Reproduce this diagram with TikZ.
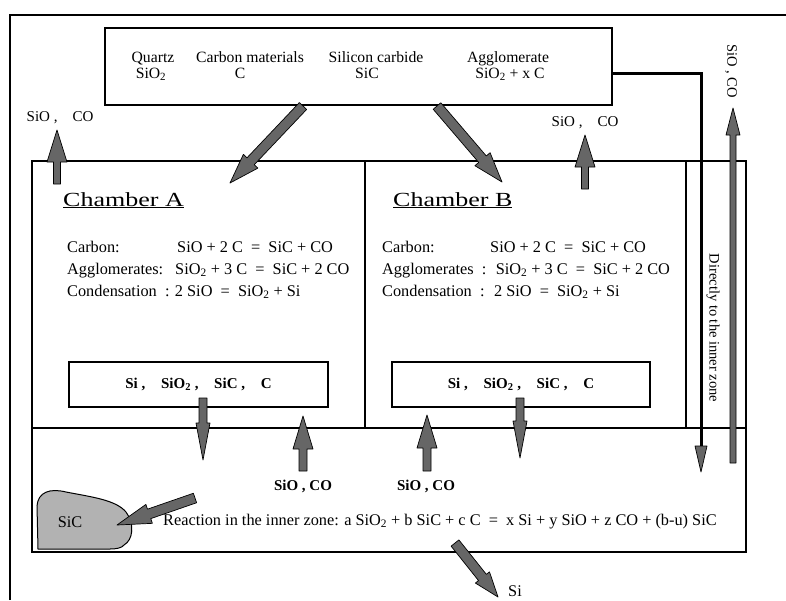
\documentclass[tikz,border=0pt]{standalone}
\usepackage{fontspec}
\setmainfont{Liberation Serif}
\usetikzlibrary{calc}
\tikzset{
  box/.style={draw, line width=2.6pt},
  ibox/.style={draw, line width=2pt, inner sep=0pt},
  frame/.style={draw, line width=1.2pt},
  txt/.style={font=\fontsize{16.3}{18}\selectfont, inner sep=0pt},
  toptxt/.style={font=\fontsize{15.7}{17}\selectfont, inner sep=0pt},
  lbl/.style={font=\fontsize{15}{17}\selectfont, inner sep=0pt},
  rlbl/.style={font=\fontsize{14.5}{16}\selectfont, inner sep=0pt},
  blbl/.style={font=\bfseries\fontsize{15}{17}\selectfont, inner sep=0pt},
  ttl/.style={font=\fontsize{20}{22}\selectfont, inner sep=0pt},
  arrowfill/.style={fill=black!60, draw=black, line width=0.7pt, line join=round},
  blob/.style={fill=black!30, draw=black, line width=1pt},
}
\newcommand\subtwo{\textsubscript{2}}
\newcommand\gap{\hspace{1.05em}}
% \fatarrow[opts]{tail}{tip}{shaft half width}{head half width}{head length}
\newcommand\fatarrow[6][]{%
  \coordinate (fahead) at ($(#3)!#6!(#2)$);
  \filldraw[arrowfill,#1] ($(#2)!#4!90:(#3)$) -- ($(fahead)!#4!90:(#3)$)
    -- ($(fahead)!#5!90:(#3)$) -- (#3) -- ($(fahead)!#5!-90:(#3)$)
    -- ($(fahead)!#4!-90:(#3)$) -- ($(#2)!#4!-90:(#3)$) -- cycle;
}
\begin{document}
\begin{tikzpicture}[x=1pt,y=-1pt]
\useasboundingbox (0,0) rectangle (786,600);
% outer frame
\coordinate (frBL) at (10,600);
\coordinate (frTL) at (10,15);
\coordinate (frTR) at (786,15);
\draw[frame] (frBL) -- (frTL) -- (frTR);

% feed box
\node[box, minimum width=507pt, minimum height=77pt, inner sep=0pt] (feed) at (358.5,66.5) {};
\node[toptxt, anchor=base] (q1) at (153,62) {Quartz};
\node[toptxt, anchor=base] (q2) at (151,78) {SiO\subtwo};
\node[toptxt, anchor=base] (c1) at (250,62) {Carbon materials};
\node[toptxt, anchor=base] (c2) at (240,78) {C};
\node[toptxt, anchor=base] (s1) at (376,62) {Silicon carbide};
\node[toptxt, anchor=base] (s2) at (367,78) {SiC};
\node[toptxt, anchor=base] (g1) at (508,62) {Agglomerate};
\node[toptxt, anchor=base] (g2) at (510,78) {SiO\subtwo{} + x C};

% furnace boxes
\coordinate (mTL) at (32,161);
\coordinate (mBR) at (746,552);
\draw[box] (mTL) rectangle (mBR);
\coordinate (zL) at (32,428);
\coordinate (zR) at (746,428);
\draw[box] (zL) -- (zR);
\coordinate (dAt) at (365,161);
\coordinate (dAb) at (365,428);
\draw[box] (dAt) -- (dAb);
\coordinate (dBt) at (686,161);
\coordinate (dBb) at (686,428);
\draw[box] (dBt) -- (dBb);

% chamber titles
\node[ttl, anchor=base west] (tA) at (63,206) {\scalebox{1.3}[1]{\underline{Chamber A}}};
\node[ttl, anchor=base west] (tB) at (393,206) {\scalebox{1.3}[1]{\underline{Chamber B}}};

% chamber A equations
\node[txt, anchor=base west] (a1l) at (67,252) {Carbon:};
\node[txt, anchor=base west] (a1r) at (177,252) {SiO + 2 C \ = \ SiC + CO};
\node[txt, anchor=base west] (a2l) at (67,274) {Agglomerates:};
\node[txt, anchor=base west] (a2r) at (175,274) {SiO\subtwo{} + 3 C \ = \ SiC + 2 CO};
\node[txt, anchor=base west] (a3l) at (67,296) {Condensation \ : 2 SiO \ = \ SiO\subtwo{} + Si};

% chamber B equations
\node[txt, anchor=base west] (b1l) at (382,252) {Carbon:};
\node[txt, anchor=base west] (b1r) at (490,252) {SiO + 2 C \ = \ SiC + CO};
\node[txt, anchor=base west] (b2l) at (382,274) {Agglomerates \ : \ SiO\subtwo{} + 3 C \ = \ SiC + 2 CO};
\node[txt, anchor=base west] (b3l) at (382,296) {Condensation \ : \ 2 SiO \ = \ SiO\subtwo{} + Si};

% product boxes
\node[ibox, minimum width=259pt, minimum height=45pt] (pA) at (198.5,384.5) {};
\node[blbl] (pAt) at (pA) {Si ,\gap SiO\subtwo{} ,\gap SiC ,\gap C};
\node[ibox, minimum width=258pt, minimum height=45pt] (pB) at (521,384.5) {};
\node[blbl] (pBt) at (pB) {Si ,\gap SiO\subtwo{} ,\gap SiC ,\gap C};

% feed arrows into chambers
\coordinate (fa1) at (303,106);
\coordinate (fa2) at (230,183);
\fatarrow{fa1}{fa2}{5pt}{10pt}{30pt}
\coordinate (fb1) at (437,106);
\coordinate (fb2) at (502,182);
\fatarrow{fb1}{fb2}{5pt}{10pt}{30pt}

% gas out of chambers
\coordinate (gA1) at (57,184);
\coordinate (gA2) at (57,130);
\fatarrow{gA1}{gA2}{3.5pt}{10pt}{32pt}
\node[lbl] (gAl) at (60,118) {SiO ,\quad CO};
\coordinate (gB1) at (585,189);
\coordinate (gB2) at (585,135);
\fatarrow{gB1}{gB2}{3.5pt}{10pt}{32pt}
\node[lbl] (gBl) at (585,123) {SiO ,\quad CO};

% bypass to the inner zone
\coordinate (by1) at (feed.east |- 0,73);
\coordinate (by2) at (701,73);
\coordinate (by3) at (701,446);
\coordinate (by4) at (701,472);
\draw[line width=3pt] (by1) -- (by2) -- (by3);
\fatarrow{by3}{by4}{2pt}{6pt}{26pt}
\node[rlbl, rotate=-90] (byl) at (713,328) {Directly to the inner zone};

% gas from inner zone directly out
\coordinate (gR1) at (733,463);
\coordinate (gR2) at (733,108);
\fatarrow{gR1}{gR2}{3pt}{7pt}{27pt}
\node[rlbl, rotate=-90] (gRl) at (731,71) {SiO , CO};

% exchanges chamber <-> inner zone
\coordinate (dA1) at (203,398);
\coordinate (dA2) at (203,460);
\fatarrow{dA1}{dA2}{4pt}{7pt}{37pt}
\coordinate (uA1) at (303,471);
\coordinate (uA2) at (303,416);
\fatarrow{uA1}{uA2}{4pt}{10pt}{33pt}
\node[blbl] (uAl) at (303,486) {SiO , CO};
\coordinate (uB1) at (427,471);
\coordinate (uB2) at (427,415);
\fatarrow{uB1}{uB2}{4pt}{10pt}{33pt}
\node[blbl] (uBl) at (426,486) {SiO , CO};
\coordinate (dB1) at (520,398);
\coordinate (dB2) at (520,458);
\fatarrow{dB1}{dB2}{4pt}{7pt}{37pt}

% SiC lump
\path[blob] (38,549) -- (37,506) .. controls (38,492) and (50,488) .. (66,492)
  .. controls (92,497) and (116,500) .. (126,512)
  .. controls (135,524) and (133,540) .. (124,545)
  .. controls (122,548) and (116,549) .. (110,549) -- cycle;
\node[txt] (sic) at (70,522) {SiC};

% reaction text
\node[txt, anchor=base west] (rx) at (163,525) {Reaction in the inner zone: a SiO\subtwo{} + b SiC + c C \ = \ x Si + y SiO + z CO + (b-u) SiC};
\coordinate (rs1) at (195,498);
\coordinate (rs2) at (117,525);
\fatarrow{rs1}{rs2}{5pt}{10pt}{34pt}

% silicon tapped
\coordinate (si1) at (455,543);
\coordinate (si2) at (498,597);
\fatarrow{si1}{si2}{5pt}{9pt}{25pt}
\node[txt, anchor=west] (sil) at (508,591) {Si};
\end{tikzpicture}
\end{document}
